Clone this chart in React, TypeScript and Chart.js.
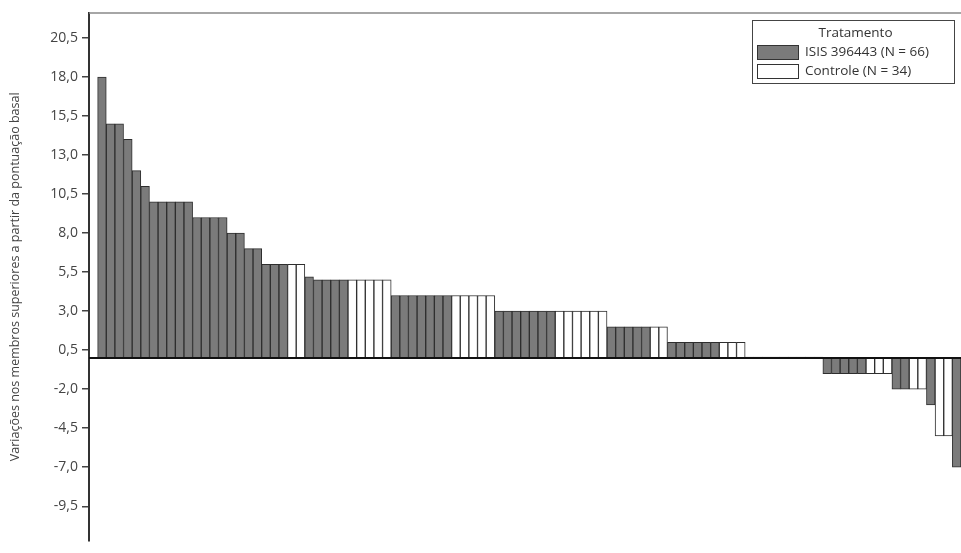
import React, { useEffect, useRef } from 'react';
import { Chart, registerables } from 'chart.js';

Chart.register(...registerables);

// change from baseline per patient, sorted (I = ISIS 396443, C = Controle)
const values = [
  18, 15, 15, 14, 12, 11, 10, 10, 10, 10, 10, 9, 9, 9, 9, 8, 8, 7, 7,
  6, 6, 6, 6, 6, 5.2,
  5, 5, 5, 5, 5, 5, 5, 5, 5,
  4, 4, 4, 4, 4, 4, 4, 4, 4, 4, 4, 4,
  3, 3, 3, 3, 3, 3, 3, 3, 3, 3, 3, 3, 3,
  2, 2, 2, 2, 2, 2, 2,
  1, 1, 1, 1, 1, 1, 1, 1, 1,
  0.05, 0.05, 0.05, 0.05, 0.05, 0.05, 0.05, 0.05, 0.05,
  -1, -1, -1, -1, -1, -1, -1, -1,
  -2, -2, -2, -2, -3, -5, -5, -7,
];
const groups = (
  'IIIIIIIIIIIIIIIIIII' + 'IIICCI' + 'IIIICCCCC' + 'IIIIIIICCCCC' + 'IIIIIIICCCCCC' +
  'IIIIICC' + 'IIIIIICCC' + 'IIIIICCCC' + 'IIIIICCC' + 'IICCICCI'
).split('');
const yTicks = [-9.5, -7, -4.5, -2, 0.5, 3, 5.5, 8, 10.5, 13, 15.5, 18, 20.5];

const GREY = '#7b7b7b';
const EDGE = '#2e2e2e';

const framePlugin = {
  id: 'frame',
  afterDatasetsDraw(chart: any) {
    const { ctx, chartArea } = chart;
    const y0 = chart.scales.y.getPixelForValue(0);
    ctx.save();
    ctx.strokeStyle = '#111';
    ctx.lineWidth = 2;
    ctx.beginPath();
    ctx.moveTo(chartArea.left, y0);
    ctx.lineTo(chartArea.right, y0);
    ctx.stroke();
    ctx.strokeStyle = '#888';
    ctx.lineWidth = 1.5;
    ctx.beginPath();
    ctx.moveTo(chartArea.left, chartArea.top);
    ctx.lineTo(chartArea.right, chartArea.top);
    ctx.stroke();
    ctx.restore();
  },
};

export default function App() {
  const ref = useRef<HTMLCanvasElement>(null);
  useEffect(() => {
    if (!ref.current) return;
    const chart = new Chart(ref.current, {
      type: 'bar',
      data: {
        datasets: [{
          data: values.map((v, i) => ({ x: i, y: v })),
          backgroundColor: groups.map(g => (g === 'I' ? GREY : '#ffffff')),
          borderColor: EDGE,
          borderWidth: 1,
          categoryPercentage: 1,
          barPercentage: 1,
        }],
      },
      options: {
        responsive: false,
        animation: false,
        layout: { padding: { top: 13, right: 0, bottom: 0, left: 0 } },
        plugins: { legend: { display: false }, tooltip: { enabled: false } },
        scales: {
          x: { type: 'linear', display: false, offset: false, min: -1.5, max: 99.5 },
          y: {
            min: -11.7,
            max: 22.1,
            afterFit: (s: any) => { s.width = 89; },
            afterBuildTicks: (s: any) => { s.ticks = yTicks.map(v => ({ value: v })); },
            border: { color: '#333', width: 2 },
            grid: { drawOnChartArea: false, tickLength: 7, color: '#444', lineWidth: 1.5 },
            ticks: {
              color: '#444',
              padding: 4,
              font: { family: 'Open Sans', size: 14 },
              callback: (v: any) => Number(v).toFixed(1).replace('.', ','),
            },
            title: {
              display: true,
              text: 'Variações nos membros superiores a partir da pontuação basal',
              color: '#444',
              padding: { top: 8, bottom: 6 },
              font: { family: 'Open Sans', size: 12.5 },
            },
          },
        },
      },
      plugins: [framePlugin],
    });
    return () => chart.destroy();
  }, []);

  const sw = (bg: string) => ({
    display: 'inline-block', width: 40, height: 13, background: bg,
    border: '1.5px solid #333', marginRight: 6, verticalAlign: 'middle',
  });
  return (
    <div style={{ position: 'fixed', left: 0, top: 0, width: 961, height: 553, background: '#fff' }}>
      <canvas ref={ref} width={961} height={553} />
      <div style={{
        position: 'absolute', left: 752, top: 20, width: 203, height: 64,
        border: '1.5px solid #444', fontFamily: 'Open Sans', fontSize: 13.5,
        color: '#333', lineHeight: '19px', paddingLeft: 4, boxSizing: 'border-box',
      }}>
        <div style={{ textAlign: 'center', marginTop: 2 }}>Tratamento</div>
        <div><span style={sw(GREY)} />ISIS 396443 (N = 66)</div>
        <div><span style={sw('#fff')} />Controle (N = 34)</div>
      </div>
    </div>
  );
}
